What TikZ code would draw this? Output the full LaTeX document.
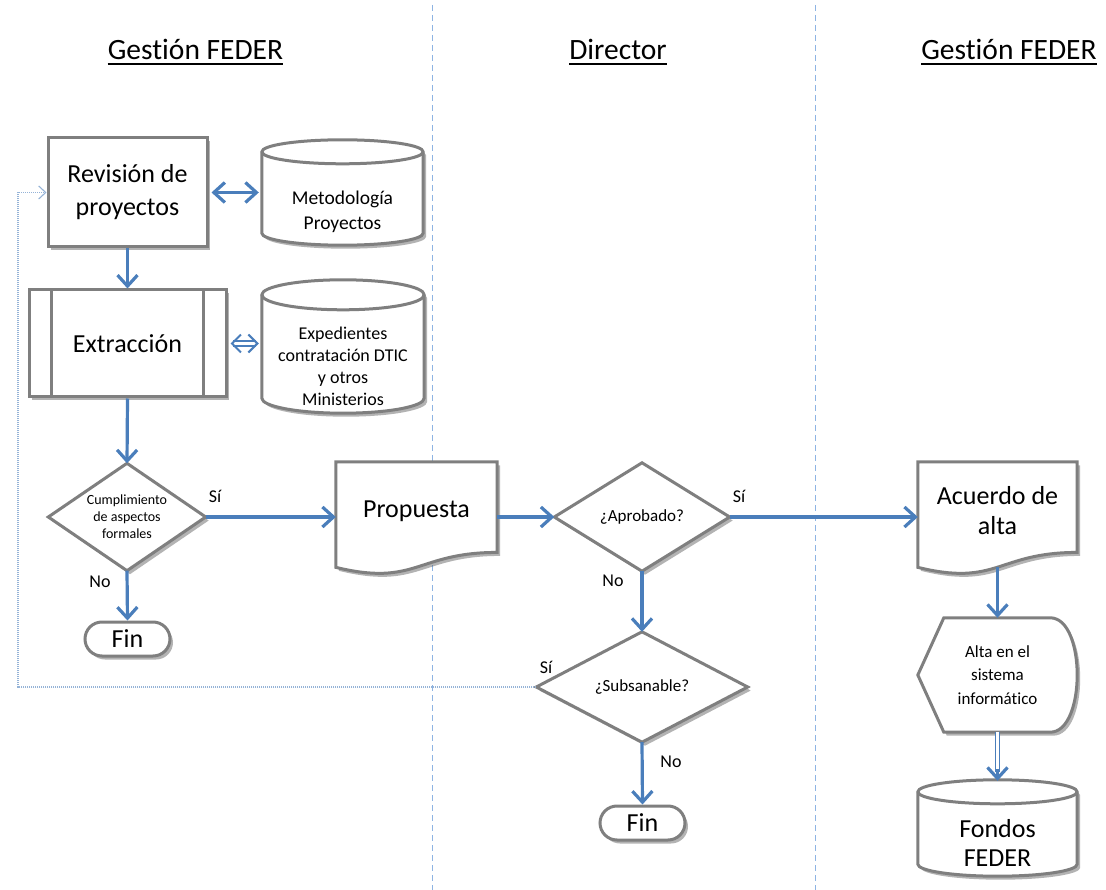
\documentclass[tikz,border=0pt]{standalone}
\usepackage{fontspec}
\setmainfont{Carlito}[Ligatures=NoCommon]
\usetikzlibrary{arrows.meta,shadows,calc}
\definecolor{arrowblue}{HTML}{4A7EBB}
\definecolor{bordergray}{HTML}{7F7F7F}
\definecolor{lanecol}{HTML}{8EB4E3}
\definecolor{fbcol}{HTML}{95B3D7}
\pgfdeclarelayer{lanes}
\pgfdeclarelayer{shapes}
\pgfsetlayers{lanes,shapes,main}
\tikzset{
  shapeline/.style={draw=bordergray, line width=3pt, fill=white,
    drop shadow={shadow xshift=3pt, shadow yshift=-3.5pt, opacity=0.4, fill=black!75}},
  boxnode/.style={shapeline, rectangle, inner sep=0pt, align=center},
  area/.style={rectangle, draw=none, inner sep=0pt, align=center},
  bigtxt/.style={font=\fontsize{26}{33}\selectfont},
  midtxt/.style={font=\fontsize{17}{21}\selectfont},
  lbl/.style={inner sep=0pt, font=\fontsize{18}{20}\selectfont},
  titletxt/.style={inner sep=0pt, font=\fontsize{29.5}{33}\selectfont},
  tip/.tip={Straight Barb[length=11pt,width=20pt]},
  flow/.style={draw=arrowblue, line width=3.2pt, -tip},
  flowboth/.style={draw=arrowblue, line width=3.2pt, tip-tip},
  dblshaft/.style={draw=arrowblue, line width=2pt, double=white, double distance=2.4pt},
  lane/.style={draw=lanecol, line width=1pt, dash pattern=on 6pt off 4pt},
  feedback/.style={draw=fbcol, line width=1.1pt, dash pattern=on 1pt off 1pt, -{Straight Barb[length=7pt,width=13pt]}},
}
\newcommand\cylshape[2]{%
  \path[shapeline] let \p1=(#1.north west), \p2=(#1.south east), \n1={(\x2-\x1)/2} in
    (\x1,\y1-#2pt) -- (\x1,\y2+#2pt) arc[start angle=180,end angle=360,x radius=\n1,y radius=#2pt]
    -- (\x2,\y1-#2pt) arc[start angle=0,end angle=180,x radius=\n1,y radius=#2pt] -- cycle;
  \path[draw=bordergray,line width=3pt] let \p1=(#1.north west), \p2=(#1.south east), \n1={(\x2-\x1)/2} in
    (\x1,\y1-#2pt) arc[start angle=180,end angle=360,x radius=\n1,y radius=#2pt];}
\newcommand\docshape[2]{%
  \path[shapeline] let \p1=(#1.north west), \p2=(#1.south east), \n1={(\x1+\x2)/2} in
    (\x1,\y1) -- (\x2,\y1) -- (\x2,\y1-0.802*#2pt)
    .. controls (\n1,\y1-0.802*#2pt) and (\n1,\y1-1.107*#2pt) .. (\x1,\y1-0.934*#2pt) -- cycle;}
\newcommand\dispshape[1]{%
  \path[shapeline] let \p1=(#1.north west), \p2=(#1.south east), \n1={(\y1+\y2)/2} in
    (\x1,\n1) -- (\x1+26pt,\y1) -- (\x2-27pt,\y1)
    .. controls (\x2+9pt,\y1) and (\x2+9pt,\y2) .. (\x2-27pt,\y2) -- (\x1+26pt,\y2) -- cycle;}
\newcommand\diashape[1]{%
  \path[shapeline] (#1.north) -- (#1.east) -- (#1.south) -- (#1.west) -- cycle;}
\begin{document}
\begin{tikzpicture}[x=1pt,y=-1pt]
\useasboundingbox (0,0) rectangle (1106,890);

% lane separators
\begin{pgfonlayer}{lanes}
\draw[lane] (432,5) -- (432,890);
\draw[lane] (815,5) -- (815,890);
\end{pgfonlayer}

% titles
\node[titletxt, anchor=base] (t1) at (195.5,60) {Gestión FEDER};
\node[titletxt, anchor=base] (t2) at (618,60) {Director};
\node[titletxt, anchor=base] (t3) at (1009,60) {Gestión FEDER};
\foreach \t in {t1,t2,t3}
  \draw[line width=2pt] ([yshift=-4.5pt]\t.base west) -- ([yshift=-4.5pt]\t.base east);

% left lane
\node[boxnode, bigtxt, minimum width=159pt, minimum height=109pt] (rev) at (127.5,192.5) {Revisión de\\proyectos};
\node[boxnode, bigtxt, minimum width=197pt, minimum height=107pt] (ext) at (127.5,343.5) {Extracción};
\draw[draw=bordergray, line width=3pt] ([xshift=24pt]ext.north west) -- ([xshift=24pt]ext.south west);
\draw[draw=bordergray, line width=3pt] ([xshift=-24pt]ext.north east) -- ([xshift=-24pt]ext.south east);

\node[area, minimum width=161pt, minimum height=105pt] (met) at (342.5,192.5) {};
\node[area, font=\fontsize{19.5}{25.5}\selectfont] (mettxt) at (342.5,212) {Metodología\\Proyectos};
\node[area, minimum width=162pt, minimum height=133pt] (exp) at (343,346.5) {};
\node[area, font=\fontsize{18}{22}\selectfont] (exptxt) at (343,366) {Expedientes\\contratación DTIC\\y otros\\Ministerios};

\node[area, font=\fontsize{14}{17}\selectfont, minimum width=157pt, minimum height=107pt] (d1) at (127,517) {Cumplimiento\\de aspectos\\formales};
\node[boxnode, bigtxt, rounded corners=17pt, minimum width=85pt, minimum height=34pt] (fin1) at (127.5,639) {Fin};

\node[area, bigtxt, minimum width=161pt, minimum height=98pt] (prop) at (416.5,511) {Propuesta};

% director lane
\node[area, midtxt, minimum width=175pt, minimum height=108pt] (d2) at (642,517) {¿Aprobado?};
\node[area, midtxt, minimum width=211pt, minimum height=110pt] (d3) at (642,687) {¿Subsanable?};
\node[boxnode, bigtxt, rounded corners=17pt, minimum width=85pt, minimum height=34pt] (fin2) at (642.5,823) {Fin};

% right lane
\node[area, font=\fontsize{26}{30}\selectfont, minimum width=159pt, minimum height=98pt] (acu) at (997.5,511) {Acuerdo de\\alta};
\node[area, font=\fontsize{17}{23.5}\selectfont, minimum width=159pt, minimum height=114pt] (alta) at (997.5,675) {Alta en el\\sistema\\informático};
\node[area, minimum width=159pt, minimum height=96pt] (fon) at (997.5,828) {};
\node[area, font=\fontsize{26}{29}\selectfont] (fontxt) at (997.5,843) {Fondos\\FEDER};

% shape outlines
\begin{pgfonlayer}{shapes}
\cylshape{met}{12}
\cylshape{exp}{15}
\cylshape{fon}{12}
\docshape{prop}{113}
\docshape{acu}{113}
\dispshape{alta}
\diashape{d1}
\diashape{d2}
\diashape{d3}
\end{pgfonlayer}

% labels
\node[lbl] (l1) at (215,496) {Sí};
\node[lbl] (l2) at (100,582) {No};
\node[lbl] (l3) at (739,496) {Sí};
\node[lbl] (l4) at (613,581) {No};
\node[lbl] (l5) at (546,667) {Sí};
\node[lbl] (l6) at (671,762) {No};

% connectors
\draw[flow] (rev.south) -- (ext.north);
\draw[flow] (ext.south) -- (d1.north);
\draw[flow] (d1.east) -- (d1.east -| prop.west);
\draw[flow] (d1.south) -- (fin1.north);
\draw[flow] (d2.west -| prop.east) -- (d2.west);
\draw[flow] (d2.east) -- (d2.east -| acu.west);
\draw[flow] (d2.south) -- (d3.north);
\draw[flow] (d3.south) -- (fin2.north);
\draw[flow] ([yshift=-7pt]acu.south) -- (alta.north);
\draw[flowboth] ([xshift=3pt]rev.east) -- ([xshift=-3pt]rev.east -| met.west);
\draw[dblshaft, {Straight Barb[length=9pt,width=18pt]}-{Straight Barb[length=9pt,width=18pt]}]
  ([xshift=3pt]ext.east) -- ([xshift=-3pt]ext.east -| exp.west);
\draw[dblshaft, line width=1.5pt] (alta.south) -- ([yshift=8pt]fon.north);
\draw[arrowblue, line width=3.2pt, -tip] ([yshift=11pt]fon.north) -- ([yshift=-1pt]fon.north);
\coordinate (fbcorner) at (18,687);
\draw[feedback] (d3.west) -- (fbcorner) |- (rev.west);
\end{tikzpicture}
\end{document}
